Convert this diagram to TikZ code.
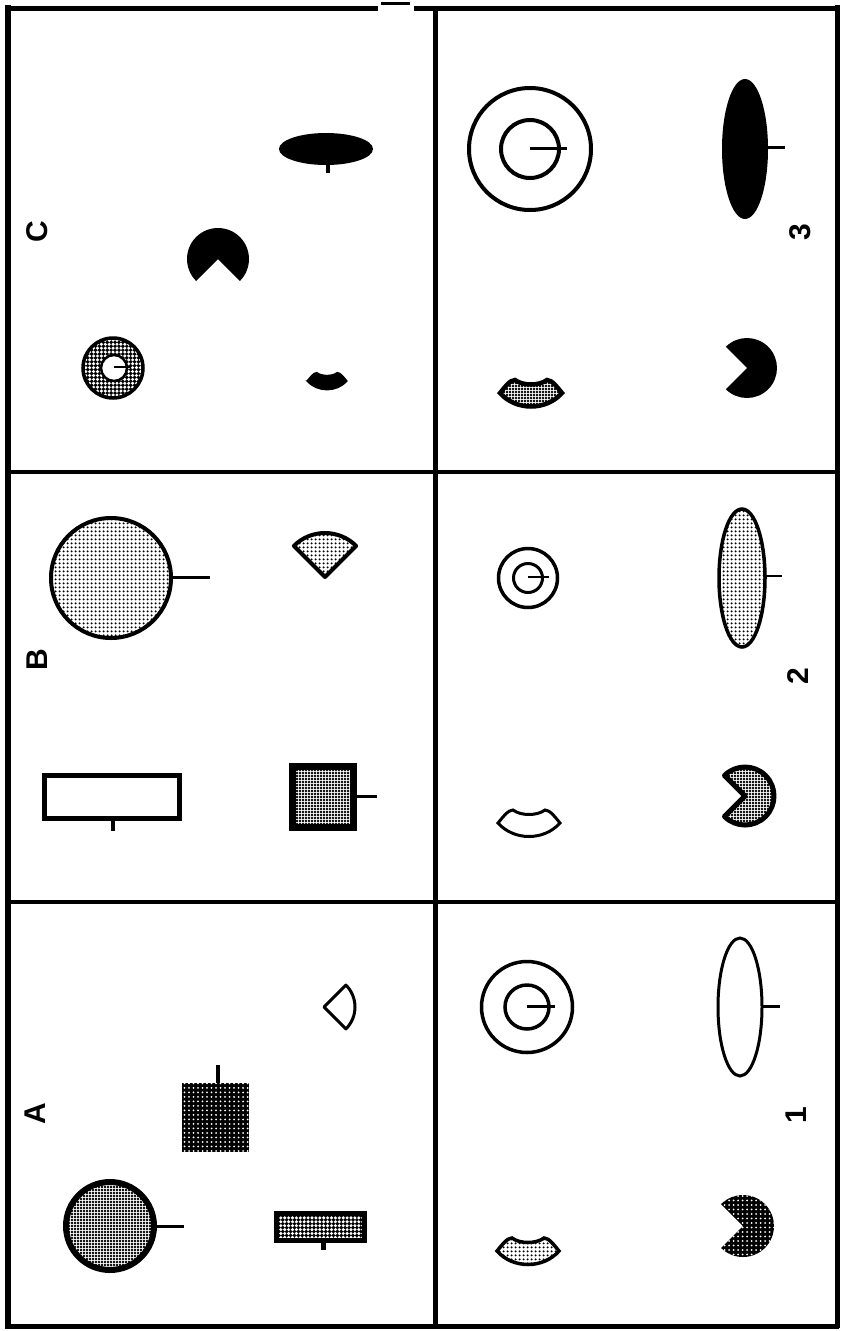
\documentclass[tikz,border=0pt]{standalone}
\usepackage{fontspec}
\setmainfont{Liberation Sans}
\usetikzlibrary{patterns.meta}
\newcommand{\lipsat}[4]{\path[#4, shift={(#1,#2)}, scale=#3] (-31,0) .. controls (-26,-6) and (-21,-13) .. (-16,-13) .. controls (-8,-7) and (8,-7) .. (16,-13) .. controls (21,-13) and (26,-6) .. (31,0) .. controls (15,18) and (-15,18) .. cycle;}
\newcommand{\pacmanat}[5]{\path[#5] (#1,#2) -- ++(#4:#3) arc[start angle=#4, delta angle=270, radius=#3] -- cycle;}
\begin{document}
\begin{tikzpicture}[x=1pt,y=-1pt,
  light/.style={pattern={Dots[radius=1.3pt,distance=4pt]}},
  med/.style={pattern={Dots[radius=1.35pt,distance=3pt]}},
  wdots/.style={fill=black, postaction={pattern={Dots[radius=1.7pt,distance=3.9pt]}, pattern color=white}},
  wsparse/.style={fill=black, postaction={pattern={Dots[radius=1pt,distance=4.5pt]}, pattern color=white}},
  lbl/.style={font=\fontsize{30}{30}\selectfont\bfseries, rotate=90, inner sep=0pt},
  rule/.style={line width=5pt},
]
\useasboundingbox (0,0) rectangle (841,1331);
% ---------- frame ----------
\draw[line width=6pt] (8,5) -- (8,1328);
\draw[rule] (5,1326) -- (839,1326);
\draw[rule] (837,5) -- (837,1328);
\draw[rule] (5,8) -- (378,8);
\draw[rule] (414,8) -- (839,8);
\draw[line width=3pt] (381,3) -- (410,3);
\draw[rule] (435,8) -- (435,1326);
\draw[line width=4.5pt] (8,472) -- (837,472);
\draw[line width=4.5pt] (8,902) -- (837,902);
% ---------- panel C ----------
\node[lbl] (labC) at (37,232) {C};
\fill (326,149) ellipse[x radius=47, y radius=16];
\draw[line width=4pt] (328,160) -- (328,173);
\pacmanat{218}{259}{31}{135}{fill=black}
\path[wdots] (113,368) circle[radius=31];
\draw[line width=3.5pt] (113,368) circle[radius=30];
\draw[line width=2.5pt, fill=white] (114,368) circle[radius=13];
\draw[line width=2.5pt] (114,367) -- (131,367);
\lipsat{327}{381}{0.64}{fill=black, draw, line width=1.5pt}
% ---------- panel B ----------
\node[lbl] (labB) at (37,660) {B};
\draw[line width=4pt, light] (111,578) circle[radius=60];
\draw[line width=3pt] (171,577) -- (210,577);
\draw[line width=4pt, light, line join=round] (325,577) -- ++(225:44) arc[start angle=225, end angle=315, radius=44] -- cycle;
\draw[line width=5pt] (44,775) rectangle (179,818);
\draw[line width=4.5pt] (113,818) -- (113,831);
\draw[line width=7pt, med] (292.5,766.5) rectangle (353.5,827.5);
\draw[line width=3pt] (357,796) -- (377,796);
% ---------- panel A ----------
\node[lbl] (labA) at (35,1114) {A};
\draw[line width=6pt, med] (110,1226) circle[radius=44];
\draw[line width=3pt] (154,1226) -- (184,1226);
\path[wsparse] (182,1083) rectangle (249,1152);
\draw[line width=4pt] (218,1065) -- (218,1083);
\path[wdots] (274,1211) rectangle (367,1243);
\draw[line width=5pt] (276.5,1213.5) rectangle (364.5,1240.5);
\draw[line width=5pt] (323,1243) -- (323,1250);
\draw[line width=3pt, line join=round] (324,1007) -- ++(-45:31) arc[start angle=-45, end angle=45, radius=31] -- cycle;
% ---------- panel 3 ----------
\node[lbl] (lab3) at (800,232) {3};
\draw[line width=4pt] (530,149) circle[radius=61];
\draw[line width=4pt] (530,149) circle[radius=29];
\draw[line width=3pt] (530,148) -- (567,148);
\fill (745,149) ellipse[x radius=23, y radius=70];
\draw[line width=3pt] (765,147) -- (785,147);
\lipsat{531}{393}{1}{med, draw, line width=4.5pt}
\pacmanat{747}{368}{30}{225}{fill=black}
% ---------- panel 2 ----------
\node[lbl] (lab2) at (798,676) {2};
\draw[line width=3.5pt] (528,578) circle[radius=29.5];
\draw[line width=3pt] (528,578) circle[radius=14.5];
\draw[line width=2.5pt] (528,577) -- (549,577);
\draw[line width=3.5pt, light] (742,578) ellipse[x radius=23, y radius=69];
\draw[line width=2.5pt] (765,576) -- (782,576);
\lipsat{529}{823}{1}{draw, line width=3pt, fill=white}
\pacmanat{745}{796}{29}{225}{draw, line width=5pt, med, line join=round}
% ---------- panel 1 ----------
\node[lbl] (lab1) at (796,1115) {1};
\draw[line width=3.5pt] (527,1007) circle[radius=45.5];
\draw[line width=3.5pt] (527,1007) circle[radius=22];
\draw[line width=3pt] (527,1006) -- (555,1006);
\draw[line width=3pt] (740,1007) ellipse[x radius=22, y radius=69];
\draw[line width=3pt] (762,1006) -- (780,1006);
\lipsat{528}{1251}{1}{light, draw, line width=3.5pt}
\pacmanat{743}{1226}{31}{225}{wsparse}
\end{tikzpicture}
\end{document}
